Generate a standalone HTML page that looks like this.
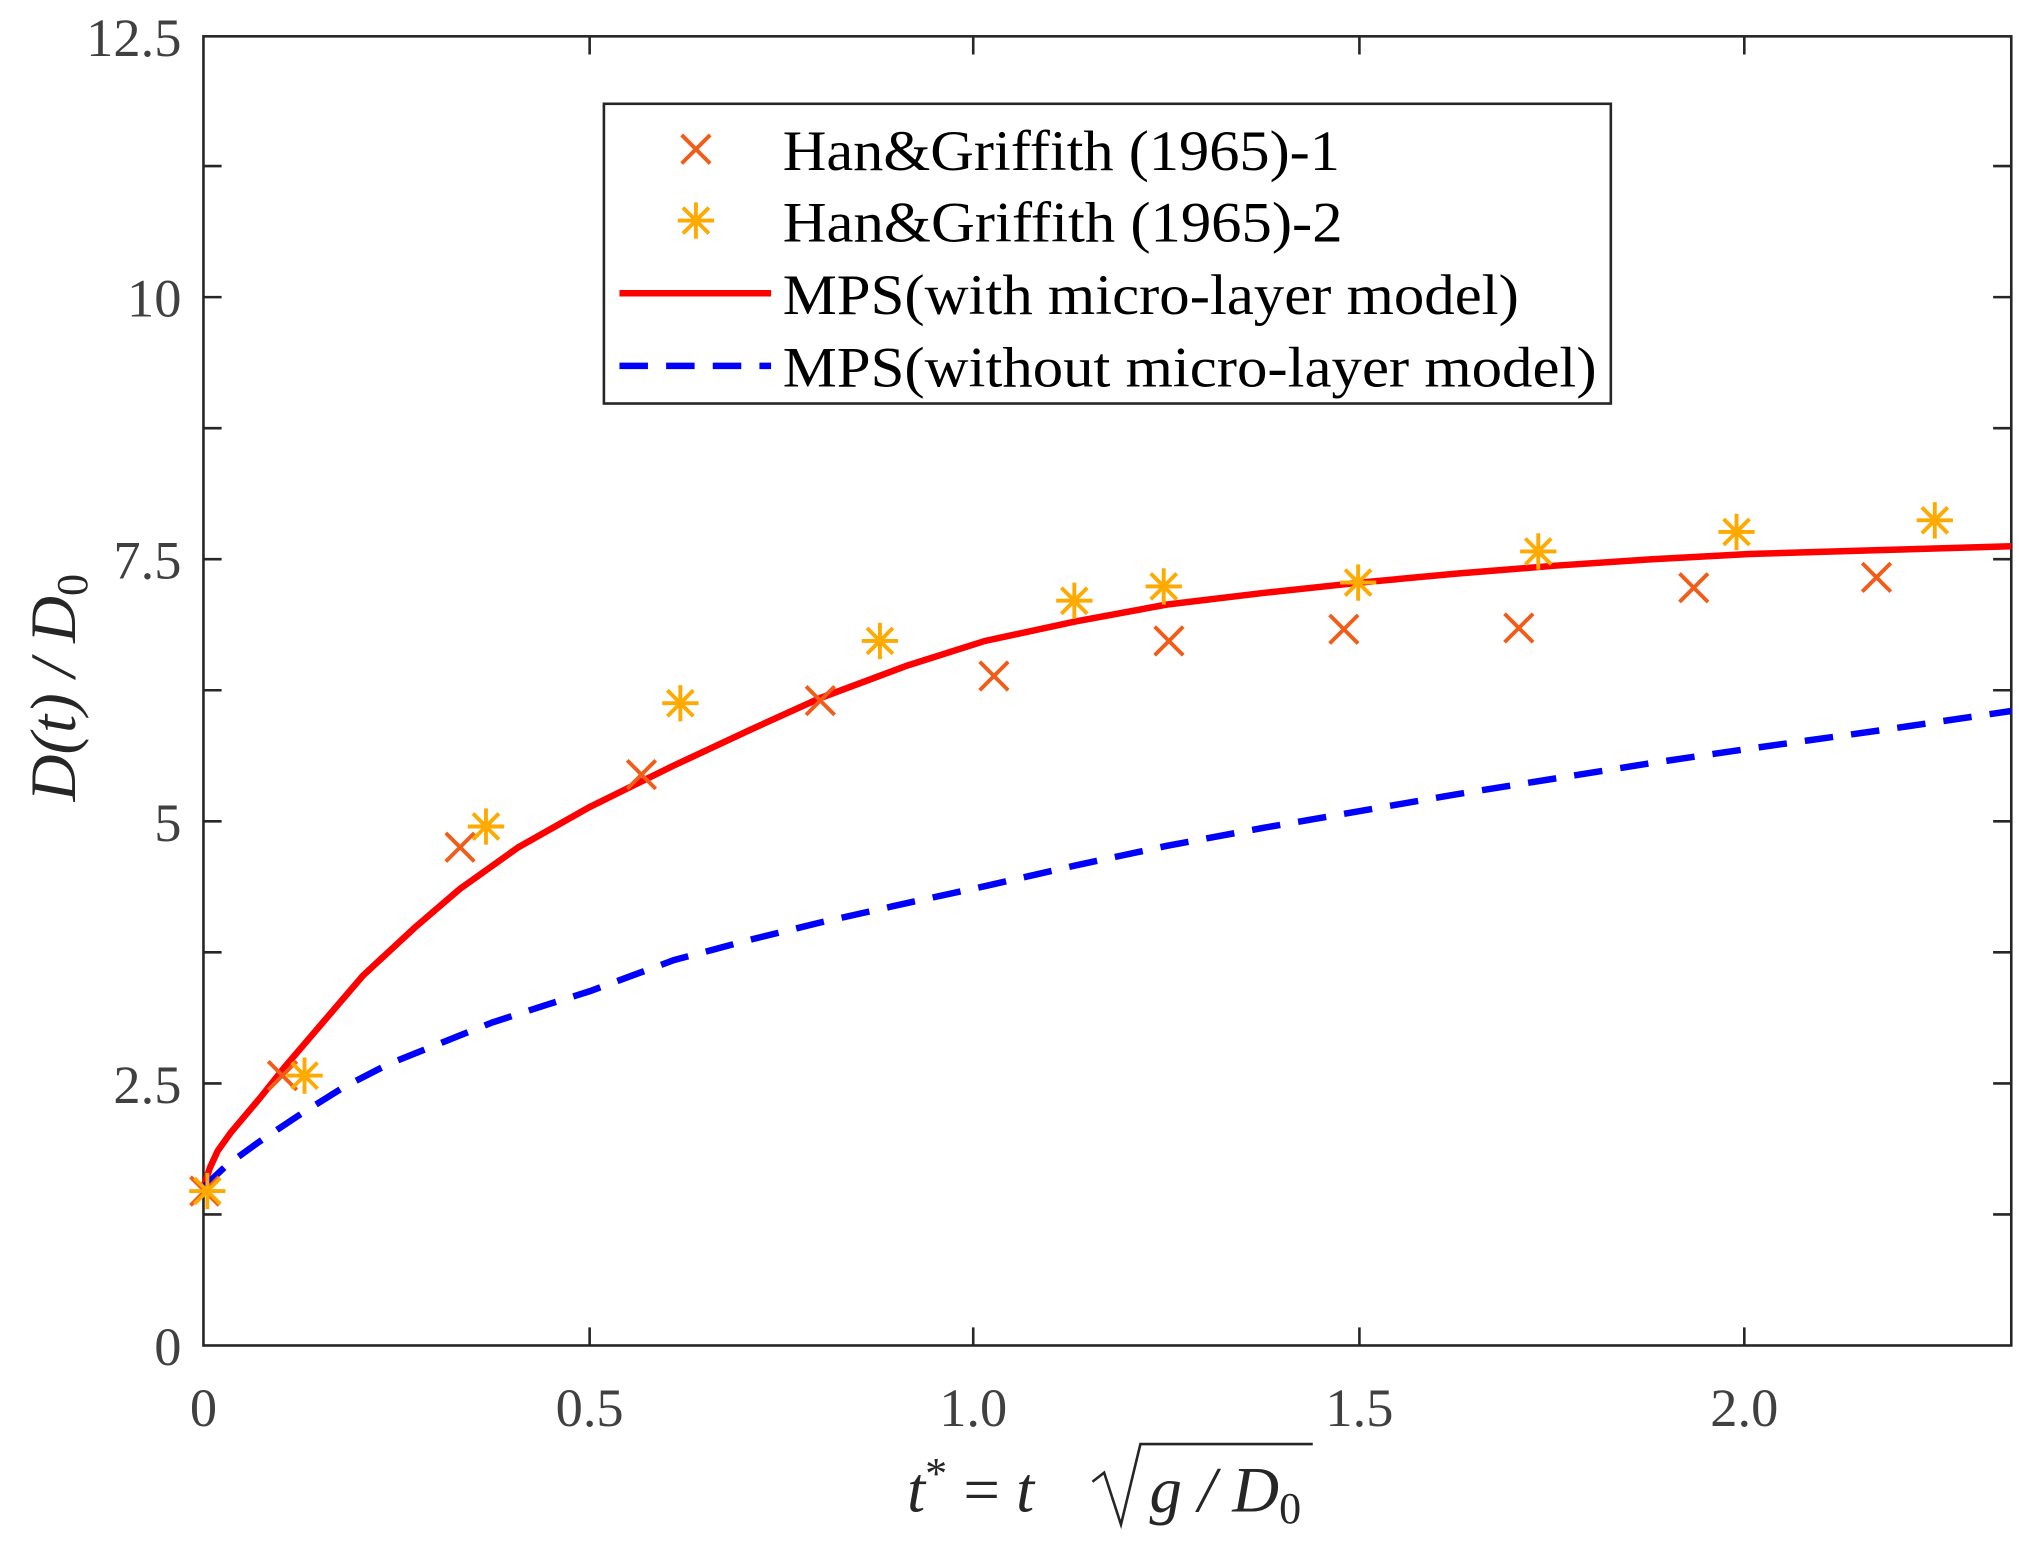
<!DOCTYPE html>
<html><head><style>html,body{margin:0;padding:0;background:#fff}svg{display:block}</style></head>
<body>
<svg width="2032" height="1544" viewBox="0 0 1568 1190" preserveAspectRatio="none" xmlns="http://www.w3.org/2000/svg" font-family="'Liberation Serif',serif">
<rect width="1568" height="1190" fill="#fff"/>
<g stroke="#262626" stroke-width="2" fill="none">
<rect x="157" y="28" width="1395" height="1009"/>
<path d="M455 1037v-14M751 1037v-14M1049 1037v-14M1346 1037v-14M455 28v14M751 28v14M1049 28v14M1346 28v14"/>
<path d="M157 936h14M157 835h14M157 734h14M157 633h14M157 532h14M157 431h14M157 330h14M157 229h14M157 128h14
M1552 936h-14M1552 835h-14M1552 734h-14M1552 633h-14M1552 532h-14M1552 431h-14M1552 330h-14M1552 229h-14M1552 128h-14"/>
</g>
<g fill="#404040" font-size="42">
<g text-anchor="end">
<text x="140" y="1052">0</text><text x="140" y="850">2.5</text><text x="140" y="648">5</text><text x="140" y="446">7.5</text><text x="140" y="244">10</text><text x="140" y="43">12.5</text>
</g>
<g text-anchor="middle">
<text x="157" y="1099">0</text><text x="455" y="1099">0.5</text><text x="751" y="1099">1.0</text><text x="1049" y="1099">1.5</text><text x="1346" y="1099">2.0</text>
</g>
</g>
<text x="0" y="0" transform="translate(58,530) rotate(-90)" text-anchor="middle" font-size="50" font-style="italic" fill="#262626">D(t) / D<tspan font-size="34" dy="9" font-style="normal">0</tspan></text>
<g fill="#262626" font-size="50" font-style="italic">
<text x="700" y="1165">t<tspan font-size="34" dy="-18" font-style="normal">*</tspan><tspan dy="18" font-style="normal"> = </tspan>t</text>
<path d="M843 1142l9 -7l13 40l15 -62h133" stroke="#262626" stroke-width="2" fill="none"/>
<text x="887" y="1165">g / D<tspan font-size="34" dy="9" font-style="normal">0</tspan></text>
</g>
<polyline fill="none" stroke="#ff0000" stroke-width="5" points="157,915 162,900 168,887 178,873 200,847 220,822 250,787 280,752 320,715 355,685 400,653 455,622 520,590 580,562 633,538 700,513 760,494 830,479 900,466 975,457 1050,449 1125,442 1200,436 1275,431 1350,427 1450,424 1552,421"/>
<polyline fill="none" stroke="#0000ff" stroke-width="5" stroke-dasharray="22,14" points="157,915 175,898 200,880 230,860 265,838 300,820 340,804 380,788 420,775 455,764 520,740 580,724 633,711 700,696 760,683 830,667 900,652 975,638 1050,625 1125,612 1200,600 1275,588 1350,577 1450,563 1552,548"/>
<defs>
<g id="x"><path d="M-11 -11L11 11M-11 11L11 -11" stroke="#f25c19" stroke-width="3"/></g>
<g id="s"><path d="M-14 0H14M0 -14V14M-10 -10L10 10M-10 10L10 -10" stroke="#ffaa00" stroke-width="3"/></g>
</defs>
<use href="#x" x="158" y="918"/><use href="#x" x="218" y="829"/><use href="#x" x="355" y="653"/><use href="#x" x="495" y="597"/><use href="#x" x="633" y="540"/><use href="#x" x="767" y="521"/><use href="#x" x="902" y="494"/><use href="#x" x="1037" y="485"/><use href="#x" x="1172" y="484"/><use href="#x" x="1307" y="453"/><use href="#x" x="1448" y="445"/>
<use href="#s" x="160" y="918"/><use href="#s" x="235" y="829"/><use href="#s" x="375" y="637"/><use href="#s" x="525" y="542"/><use href="#s" x="679" y="494"/><use href="#s" x="829" y="463"/><use href="#s" x="898" y="452"/><use href="#s" x="1048" y="449"/><use href="#s" x="1187" y="425"/><use href="#s" x="1340" y="410"/><use href="#s" x="1493" y="401"/>
<rect x="466" y="80" width="777" height="231" fill="#fff" stroke="#262626" stroke-width="2"/>
<use href="#x" x="537" y="115"/>
<use href="#s" x="537" y="170"/>
<path d="M478 226H595" stroke="#ff0000" stroke-width="5"/>
<path d="M478 282H595" stroke="#0000ff" stroke-width="5" stroke-dasharray="22,14"/>
<g font-size="44" fill="#000">
<text x="604" y="131" textLength="430" lengthAdjust="spacingAndGlyphs">Han&amp;Griffith (1965)-1</text>
<text x="604" y="186" textLength="432" lengthAdjust="spacingAndGlyphs">Han&amp;Griffith (1965)-2</text>
<text x="604" y="242" textLength="568" lengthAdjust="spacingAndGlyphs">MPS(with micro-layer model)</text>
<text x="604" y="298" textLength="628" lengthAdjust="spacingAndGlyphs">MPS(without micro-layer model)</text>
</g>
</svg>
</body></html>
